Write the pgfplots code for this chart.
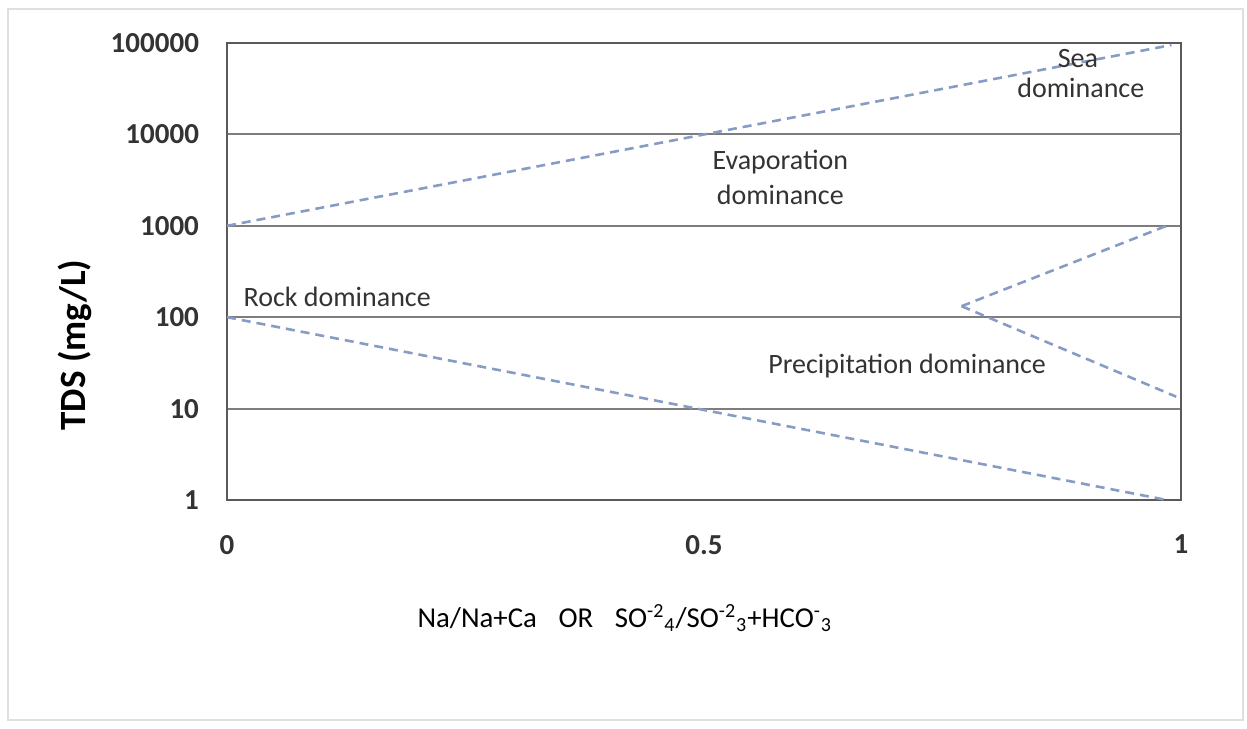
\documentclass[border=0pt]{standalone}
\usepackage{pgfplots}
\pgfplotsset{compat=1.18}
\usepackage{fontspec}
\setmainfont{Carlito}
\definecolor{dashc}{RGB}{135,156,196}
\definecolor{gridc}{RGB}{125,125,125}
\definecolor{framec}{RGB}{90,90,90}
\begin{document}
\begin{tikzpicture}
\path[use as bounding box] (-113.5pt,-114pt) rectangle (510pt,250pt);
\draw[gray!25, line width=0.8pt] (-109.5pt,-110pt) rectangle (508pt,245.5pt);
\begin{axis}[
  at={(0,0)}, anchor=south west,
  scale only axis, width=477pt, height=228.5pt,
  ymode=log, xmin=0, xmax=1, ymin=1, ymax=100000,
  xtick={0,0.5,1}, xticklabels={0,0.5,1},
  ytick={1,10,100,1000,10000,100000},
  yticklabels={1,10,100,1000,10000,100000},
  major tick length=0pt, minor tick length=0pt,
  ymajorgrids, major grid style={gridc, line width=1pt},
  axis line style={framec, line width=1.3pt},
  tick label style={font=\fontsize{14.5}{15}\selectfont\bfseries, text=black!80},
  yticklabel style={xshift=-10.5pt},
  xticklabel style={yshift=-14pt},
  ylabel={TDS (mg/L)},
  ylabel style={font=\fontsize{18.5}{19}\selectfont\bfseries, at={(axis description cs:-0.159,0.339)}, anchor=center},
  xlabel={Na/Na+Ca\hspace{0.75em}OR\hspace{0.75em}SO\textsuperscript{-2}\textsubscript{4}/SO\textsuperscript{-2}\textsubscript{3}+HCO\textsuperscript{-}\textsubscript{3}},
  xlabel style={font=\fontsize{14.4}{15}\selectfont, at={(axis description cs:0.417,0)}, anchor=center, yshift=-59pt},
  clip=false,
]
\addplot[dashc, line width=1.3pt, dash pattern=on 4.5pt off 3pt] coordinates {(0,1000) (0.99,95000)};
\addplot[dashc, line width=1.3pt, dash pattern=on 4.5pt off 3pt] coordinates {(0,100) (0.985,1)};
\addplot[dashc, line width=1.3pt, dash pattern=on 4.5pt off 3pt] coordinates {(0.77,132) (0.985,1000)};
\addplot[dashc, line width=1.3pt, dash pattern=on 4.5pt off 3pt] coordinates {(0.77,132) (0.995,13.5)};
\node[font=\fontsize{14}{15}\selectfont, text=black!80] at (rel axis cs:0.892,0.967) {Sea};
\node[font=\fontsize{14}{15}\selectfont, text=black!80] at (rel axis cs:0.895,0.902) {dominance};
\node[font=\fontsize{14}{15}\selectfont, text=black!80] at (rel axis cs:0.580,0.740) {Evaporation};
\node[font=\fontsize{14}{15}\selectfont, text=black!80] at (rel axis cs:0.580,0.667) {dominance};
\node[font=\fontsize{14}{15}\selectfont, text=black!80, anchor=west, inner sep=0pt] at (rel axis cs:0.017,0.444) {Rock dominance};
\node[font=\fontsize{14}{15}\selectfont, text=black!80, anchor=west, inner sep=0pt] at (rel axis cs:0.567,0.293) {Precipitation dominance};
\end{axis}
\end{tikzpicture}
\end{document}
